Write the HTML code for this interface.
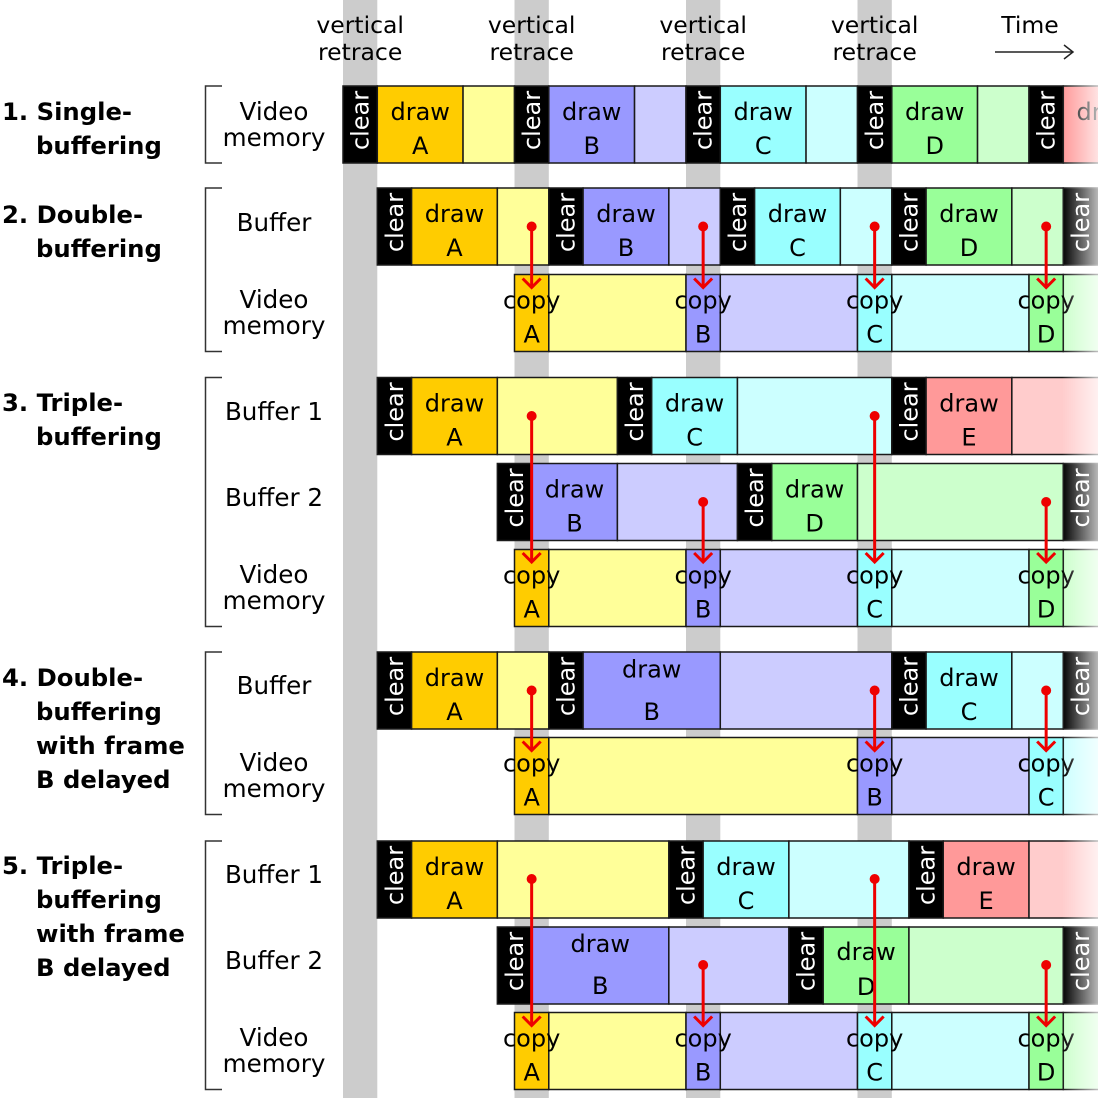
<!DOCTYPE html>
<html><head><meta charset="utf-8"><style>
html,body{margin:0;padding:0;background:#fff;}
svg{display:block;}
text{font-family:"DejaVu Sans","Liberation Sans",sans-serif;}
.c rect{stroke:#1a1a1a;stroke-width:1.5;}
.k{fill:#000}.oA{fill:#ffcc00}.lA{fill:#ffff99}.oB{fill:#9999ff}.lB{fill:#ccccff}
.oC{fill:#99ffff}.lC{fill:#ccffff}.oD{fill:#99ff99}.lD{fill:#ccffcc}.oE{fill:#ff9999}.lE{fill:#ffcccc}
.t{font-size:24px;text-anchor:middle;fill:#000}
.w{font-size:24px;text-anchor:middle;fill:#fff}
.h{font-size:23.5px;text-anchor:middle;fill:#000}
.r{font-size:24.6px;text-anchor:middle;fill:#000}
.b{font-size:24.3px;font-weight:bold;fill:#000}
.a line,.a polyline{stroke:#ee0000;stroke-width:3;fill:none}
.a circle{fill:#ee0000}
</style></head><body>
<svg width="1098" height="1098" viewBox="0 0 1098 1098" xmlns="http://www.w3.org/2000/svg">
<defs>
<linearGradient id="fade" x1="0" y1="0" x2="1" y2="0">
<stop offset="0" stop-color="#fff" stop-opacity="0"/>
<stop offset="1" stop-color="#fff" stop-opacity="0.72"/>
</linearGradient>
</defs>
<!-- gray retrace bars -->
<g fill="#cccccc">
<rect x="343" y="0" width="34.3" height="1098"/>
<rect x="514.5" y="0" width="34.3" height="1098"/>
<rect x="686" y="0" width="34.3" height="1098"/>
<rect x="857.5" y="0" width="34.3" height="1098"/>
</g>
<!-- header -->
<text class="h" x="360.15" y="33">vertical</text><text class="h" x="360.15" y="60">retrace</text>
<text class="h" x="531.65" y="33">vertical</text><text class="h" x="531.65" y="60">retrace</text>
<text class="h" x="703.15" y="33">vertical</text><text class="h" x="703.15" y="60">retrace</text>
<text class="h" x="874.65" y="33">vertical</text><text class="h" x="874.65" y="60">retrace</text>
<text class="h" x="1030" y="33">Time</text>
<g stroke="#222" stroke-width="1.5" fill="none">
<line x1="995" y1="52" x2="1073" y2="52"/>
<polyline points="1064,45 1073,52 1064,59"/>
</g>
<!-- left labels -->
<text class="b" x="2" y="120">1. Single-</text><text class="b" x="36" y="154">buffering</text>
<text class="b" x="2" y="223">2. Double-</text><text class="b" x="36" y="257">buffering</text>
<text class="b" x="2" y="411">3. Triple-</text><text class="b" x="36" y="445">buffering</text>
<text class="b" x="2" y="686">4. Double-</text><text class="b" x="36" y="720">buffering</text>
<text class="b" x="36" y="754">with frame</text><text class="b" x="36" y="788">B delayed</text>
<text class="b" x="2" y="874">5. Triple-</text><text class="b" x="36" y="908">buffering</text>
<text class="b" x="36" y="942">with frame</text><text class="b" x="36" y="976">B delayed</text>
<!-- brackets -->
<g stroke="#333" stroke-width="1.5" fill="none">
<polyline points="222,86 205.5,86 205.5,163 222,163"/>
<polyline points="222,188 205.5,188 205.5,351.5 222,351.5"/>
<polyline points="222,377.5 205.5,377.5 205.5,626.5 222,626.5"/>
<polyline points="222,652 205.5,652 205.5,814.5 222,814.5"/>
<polyline points="222,841 205.5,841 205.5,1089.5 222,1089.5"/>
</g>
<!-- row labels -->
<text class="r" x="274" y="120">Video</text><text class="r" x="274" y="146">memory</text>
<text class="r" x="274" y="231">Buffer</text>
<text class="r" x="274" y="308">Video</text><text class="r" x="274" y="334">memory</text>
<text class="r" x="274" y="420">Buffer 1</text>
<text class="r" x="274" y="506">Buffer 2</text>
<text class="r" x="274" y="583">Video</text><text class="r" x="274" y="609">memory</text>
<text class="r" x="274" y="694">Buffer</text>
<text class="r" x="274" y="771">Video</text><text class="r" x="274" y="797">memory</text>
<text class="r" x="274" y="883">Buffer 1</text>
<text class="r" x="274" y="969">Buffer 2</text>
<text class="r" x="274" y="1046">Video</text><text class="r" x="274" y="1072">memory</text>

<!-- ROW 1 -->
<g class="c">
<rect class="k" x="343" y="86" width="34.3" height="77"/>
<rect class="oA" x="377.3" y="86" width="85.75" height="77"/>
<rect class="lA" x="463.05" y="86" width="51.45" height="77"/>
<rect class="k" x="514.5" y="86" width="34.3" height="77"/>
<rect class="oB" x="548.8" y="86" width="85.75" height="77"/>
<rect class="lB" x="634.55" y="86" width="51.45" height="77"/>
<rect class="k" x="686" y="86" width="34.3" height="77"/>
<rect class="oC" x="720.3" y="86" width="85.75" height="77"/>
<rect class="lC" x="806.05" y="86" width="51.45" height="77"/>
<rect class="k" x="857.5" y="86" width="34.3" height="77"/>
<rect class="oD" x="891.8" y="86" width="85.75" height="77"/>
<rect class="lD" x="977.55" y="86" width="51.45" height="77"/>
<rect class="k" x="1029" y="86" width="34.3" height="77"/>
<rect class="oE" x="1063.3" y="86" width="90" height="77"/>
</g>
<text class="w" transform="translate(368.65,120.5) rotate(-90)">clear</text>
<text class="w" transform="translate(540.15,120.5) rotate(-90)">clear</text>
<text class="w" transform="translate(711.65,120.5) rotate(-90)">clear</text>
<text class="w" transform="translate(883.15,120.5) rotate(-90)">clear</text>
<text class="w" transform="translate(1054.65,120.5) rotate(-90)">clear</text>
<text class="t" x="420.2" y="120">draw</text><text class="t" x="420.2" y="154">A</text>
<text class="t" x="591.7" y="120">draw</text><text class="t" x="591.7" y="154">B</text>
<text class="t" x="763.2" y="120">draw</text><text class="t" x="763.2" y="154">C</text>
<text class="t" x="934.7" y="120">draw</text><text class="t" x="934.7" y="154">D</text>
<text class="t" x="1106.2" y="120">draw</text><text class="t" x="1106.2" y="154">E</text>

<!-- ROW 2 buffer -->
<g class="c">
<rect class="k" x="377.3" y="188" width="34.3" height="77"/>
<rect class="oA" x="411.6" y="188" width="85.75" height="77"/>
<rect class="lA" x="497.35" y="188" width="51.45" height="77"/>
<rect class="k" x="548.8" y="188" width="34.3" height="77"/>
<rect class="oB" x="583.1" y="188" width="85.75" height="77"/>
<rect class="lB" x="668.85" y="188" width="51.45" height="77"/>
<rect class="k" x="720.3" y="188" width="34.3" height="77"/>
<rect class="oC" x="754.6" y="188" width="85.75" height="77"/>
<rect class="lC" x="840.35" y="188" width="51.45" height="77"/>
<rect class="k" x="891.8" y="188" width="34.3" height="77"/>
<rect class="oD" x="926.1" y="188" width="85.75" height="77"/>
<rect class="lD" x="1011.85" y="188" width="51.45" height="77"/>
<rect class="k" x="1063.3" y="188" width="50" height="77"/>
</g>
<text class="w" transform="translate(402.95,222.5) rotate(-90)">clear</text>
<text class="w" transform="translate(574.45,222.5) rotate(-90)">clear</text>
<text class="w" transform="translate(745.95,222.5) rotate(-90)">clear</text>
<text class="w" transform="translate(917.45,222.5) rotate(-90)">clear</text>
<text class="w" transform="translate(1088.95,222.5) rotate(-90)">clear</text>
<text class="t" x="454.5" y="222">draw</text><text class="t" x="454.5" y="256">A</text>
<text class="t" x="626" y="222">draw</text><text class="t" x="626" y="256">B</text>
<text class="t" x="797.5" y="222">draw</text><text class="t" x="797.5" y="256">C</text>
<text class="t" x="969" y="222">draw</text><text class="t" x="969" y="256">D</text>
<!-- ROW 2 video -->
<g class="c">
<rect class="oA" x="514.5" y="274.5" width="34.3" height="77"/>
<rect class="lA" x="548.8" y="274.5" width="137.2" height="77"/>
<rect class="oB" x="686" y="274.5" width="34.3" height="77"/>
<rect class="lB" x="720.3" y="274.5" width="137.2" height="77"/>
<rect class="oC" x="857.5" y="274.5" width="34.3" height="77"/>
<rect class="lC" x="891.8" y="274.5" width="137.2" height="77"/>
<rect class="oD" x="1029" y="274.5" width="34.3" height="77"/>
<rect class="lD" x="1063.3" y="274.5" width="50" height="77"/>
</g>
<text class="t" x="531.65" y="308.5">copy</text><text class="t" x="531.65" y="342.5">A</text>
<text class="t" x="703.15" y="308.5">copy</text><text class="t" x="703.15" y="342.5">B</text>
<text class="t" x="874.65" y="308.5">copy</text><text class="t" x="874.65" y="342.5">C</text>
<text class="t" x="1046.15" y="308.5">copy</text><text class="t" x="1046.15" y="342.5">D</text>

<!-- ROW 3 buffer 1 -->
<g class="c">
<rect class="k" x="377.3" y="377.5" width="34.3" height="77"/>
<rect class="oA" x="411.6" y="377.5" width="85.75" height="77"/>
<rect class="lA" x="497.35" y="377.5" width="120.05" height="77"/>
<rect class="k" x="617.4" y="377.5" width="34.3" height="77"/>
<rect class="oC" x="651.7" y="377.5" width="85.75" height="77"/>
<rect class="lC" x="737.45" y="377.5" width="154.35" height="77"/>
<rect class="k" x="891.8" y="377.5" width="34.3" height="77"/>
<rect class="oE" x="926.1" y="377.5" width="85.75" height="77"/>
<rect class="lE" x="1011.85" y="377.5" width="100" height="77"/>
</g>
<text class="w" transform="translate(402.95,412) rotate(-90)">clear</text>
<text class="w" transform="translate(643.05,412) rotate(-90)">clear</text>
<text class="w" transform="translate(917.45,412) rotate(-90)">clear</text>
<text class="t" x="454.5" y="411.5">draw</text><text class="t" x="454.5" y="445.5">A</text>
<text class="t" x="694.6" y="411.5">draw</text><text class="t" x="694.6" y="445.5">C</text>
<text class="t" x="969" y="411.5">draw</text><text class="t" x="969" y="445.5">E</text>
<!-- ROW 3 buffer 2 -->
<g class="c">
<rect class="k" x="497.35" y="463.5" width="34.3" height="77"/>
<rect class="oB" x="531.65" y="463.5" width="85.75" height="77"/>
<rect class="lB" x="617.4" y="463.5" width="120.05" height="77"/>
<rect class="k" x="737.45" y="463.5" width="34.3" height="77"/>
<rect class="oD" x="771.75" y="463.5" width="85.75" height="77"/>
<rect class="lD" x="857.5" y="463.5" width="205.8" height="77"/>
<rect class="k" x="1063.3" y="463.5" width="50" height="77"/>
</g>
<text class="w" transform="translate(523,498) rotate(-90)">clear</text>
<text class="w" transform="translate(763.1,498) rotate(-90)">clear</text>
<text class="w" transform="translate(1088.95,498) rotate(-90)">clear</text>
<text class="t" x="574.5" y="497.5">draw</text><text class="t" x="574.5" y="531.5">B</text>
<text class="t" x="814.6" y="497.5">draw</text><text class="t" x="814.6" y="531.5">D</text>
<!-- ROW 3 video -->
<g class="c">
<rect class="oA" x="514.5" y="549.5" width="34.3" height="77"/>
<rect class="lA" x="548.8" y="549.5" width="137.2" height="77"/>
<rect class="oB" x="686" y="549.5" width="34.3" height="77"/>
<rect class="lB" x="720.3" y="549.5" width="137.2" height="77"/>
<rect class="oC" x="857.5" y="549.5" width="34.3" height="77"/>
<rect class="lC" x="891.8" y="549.5" width="137.2" height="77"/>
<rect class="oD" x="1029" y="549.5" width="34.3" height="77"/>
<rect class="lD" x="1063.3" y="549.5" width="50" height="77"/>
</g>
<text class="t" x="531.65" y="583.5">copy</text><text class="t" x="531.65" y="617.5">A</text>
<text class="t" x="703.15" y="583.5">copy</text><text class="t" x="703.15" y="617.5">B</text>
<text class="t" x="874.65" y="583.5">copy</text><text class="t" x="874.65" y="617.5">C</text>
<text class="t" x="1046.15" y="583.5">copy</text><text class="t" x="1046.15" y="617.5">D</text>

<!-- ROW 4 buffer -->
<g class="c">
<rect class="k" x="377.3" y="652" width="34.3" height="77"/>
<rect class="oA" x="411.6" y="652" width="85.75" height="77"/>
<rect class="lA" x="497.35" y="652" width="51.45" height="77"/>
<rect class="k" x="548.8" y="652" width="34.3" height="77"/>
<rect class="oB" x="583.1" y="652" width="137.2" height="77"/>
<rect class="lB" x="720.3" y="652" width="171.5" height="77"/>
<rect class="k" x="891.8" y="652" width="34.3" height="77"/>
<rect class="oC" x="926.1" y="652" width="85.75" height="77"/>
<rect class="lC" x="1011.85" y="652" width="51.45" height="77"/>
<rect class="k" x="1063.3" y="652" width="50" height="77"/>
</g>
<text class="w" transform="translate(402.95,686.5) rotate(-90)">clear</text>
<text class="w" transform="translate(574.45,686.5) rotate(-90)">clear</text>
<text class="w" transform="translate(917.45,686.5) rotate(-90)">clear</text>
<text class="w" transform="translate(1088.95,686.5) rotate(-90)">clear</text>
<text class="t" x="454.5" y="686">draw</text><text class="t" x="454.5" y="720">A</text>
<text class="t" x="651.7" y="677.5">draw</text><text class="t" x="651.7" y="720">B</text>
<text class="t" x="969" y="686">draw</text><text class="t" x="969" y="720">C</text>
<!-- ROW 4 video -->
<g class="c">
<rect class="oA" x="514.5" y="737.5" width="34.3" height="77"/>
<rect class="lA" x="548.8" y="737.5" width="308.7" height="77"/>
<rect class="oB" x="857.5" y="737.5" width="34.3" height="77"/>
<rect class="lB" x="891.8" y="737.5" width="137.2" height="77"/>
<rect class="oC" x="1029" y="737.5" width="34.3" height="77"/>
<rect class="lC" x="1063.3" y="737.5" width="50" height="77"/>
</g>
<text class="t" x="531.65" y="771.5">copy</text><text class="t" x="531.65" y="805.5">A</text>
<text class="t" x="874.65" y="771.5">copy</text><text class="t" x="874.65" y="805.5">B</text>
<text class="t" x="1046.15" y="771.5">copy</text><text class="t" x="1046.15" y="805.5">C</text>

<!-- ROW 5 buffer 1 -->
<g class="c">
<rect class="k" x="377.3" y="841" width="34.3" height="77"/>
<rect class="oA" x="411.6" y="841" width="85.75" height="77"/>
<rect class="lA" x="497.35" y="841" width="171.5" height="77"/>
<rect class="k" x="668.85" y="841" width="34.3" height="77"/>
<rect class="oC" x="703.15" y="841" width="85.75" height="77"/>
<rect class="lC" x="788.9" y="841" width="120.05" height="77"/>
<rect class="k" x="908.95" y="841" width="34.3" height="77"/>
<rect class="oE" x="943.25" y="841" width="85.75" height="77"/>
<rect class="lE" x="1029" y="841" width="85" height="77"/>
</g>
<text class="w" transform="translate(402.95,875.5) rotate(-90)">clear</text>
<text class="w" transform="translate(694.5,875.5) rotate(-90)">clear</text>
<text class="w" transform="translate(934.6,875.5) rotate(-90)">clear</text>
<text class="t" x="454.5" y="875">draw</text><text class="t" x="454.5" y="909">A</text>
<text class="t" x="746" y="875">draw</text><text class="t" x="746" y="909">C</text>
<text class="t" x="986.1" y="875">draw</text><text class="t" x="986.1" y="909">E</text>
<!-- ROW 5 buffer 2 -->
<g class="c">
<rect class="k" x="497.35" y="927" width="34.3" height="77"/>
<rect class="oB" x="531.65" y="927" width="137.2" height="77"/>
<rect class="lB" x="668.85" y="927" width="120.05" height="77"/>
<rect class="k" x="788.9" y="927" width="34.3" height="77"/>
<rect class="oD" x="823.2" y="927" width="85.75" height="77"/>
<rect class="lD" x="908.95" y="927" width="154.35" height="77"/>
<rect class="k" x="1063.3" y="927" width="50" height="77"/>
</g>
<text class="w" transform="translate(523,961.5) rotate(-90)">clear</text>
<text class="w" transform="translate(814.55,961.5) rotate(-90)">clear</text>
<text class="w" transform="translate(1088.95,961.5) rotate(-90)">clear</text>
<text class="t" x="600.25" y="952">draw</text><text class="t" x="600.25" y="994">B</text>
<text class="t" x="866.1" y="960">draw</text><text class="t" x="866.1" y="995">D</text>
<!-- ROW 5 video -->
<g class="c">
<rect class="oA" x="514.5" y="1012.5" width="34.3" height="77"/>
<rect class="lA" x="548.8" y="1012.5" width="137.2" height="77"/>
<rect class="oB" x="686" y="1012.5" width="34.3" height="77"/>
<rect class="lB" x="720.3" y="1012.5" width="137.2" height="77"/>
<rect class="oC" x="857.5" y="1012.5" width="34.3" height="77"/>
<rect class="lC" x="891.8" y="1012.5" width="137.2" height="77"/>
<rect class="oD" x="1029" y="1012.5" width="34.3" height="77"/>
<rect class="lD" x="1063.3" y="1012.5" width="50" height="77"/>
</g>
<text class="t" x="531.65" y="1046.5">copy</text><text class="t" x="531.65" y="1080.5">A</text>
<text class="t" x="703.15" y="1046.5">copy</text><text class="t" x="703.15" y="1080.5">B</text>
<text class="t" x="874.65" y="1046.5">copy</text><text class="t" x="874.65" y="1080.5">C</text>
<text class="t" x="1046.15" y="1046.5">copy</text><text class="t" x="1046.15" y="1080.5">D</text>

<!-- arrows -->
<g class="a">
<circle cx="531.65" cy="226.5" r="5"/><line x1="531.65" y1="226.5" x2="531.65" y2="287.5"/><polyline points="522.65,278.5 531.65,287.5 540.65,278.5"/>
<circle cx="703.15" cy="226.5" r="5"/><line x1="703.15" y1="226.5" x2="703.15" y2="287.5"/><polyline points="694.15,278.5 703.15,287.5 712.15,278.5"/>
<circle cx="874.65" cy="226.5" r="5"/><line x1="874.65" y1="226.5" x2="874.65" y2="287.5"/><polyline points="865.65,278.5 874.65,287.5 883.65,278.5"/>
<circle cx="1046.15" cy="226.5" r="5"/><line x1="1046.15" y1="226.5" x2="1046.15" y2="287.5"/><polyline points="1037.15,278.5 1046.15,287.5 1055.15,278.5"/>
<circle cx="531.65" cy="416" r="5"/><line x1="531.65" y1="416" x2="531.65" y2="562"/><polyline points="522.65,553 531.65,562 540.65,553"/>
<circle cx="703.15" cy="502" r="5"/><line x1="703.15" y1="502" x2="703.15" y2="562"/><polyline points="694.15,553 703.15,562 712.15,553"/>
<circle cx="874.65" cy="416" r="5"/><line x1="874.65" y1="416" x2="874.65" y2="562"/><polyline points="865.65,553 874.65,562 883.65,553"/>
<circle cx="1046.15" cy="502" r="5"/><line x1="1046.15" y1="502" x2="1046.15" y2="562"/><polyline points="1037.15,553 1046.15,562 1055.15,553"/>
<circle cx="531.65" cy="690.5" r="5"/><line x1="531.65" y1="690.5" x2="531.65" y2="750.5"/><polyline points="522.65,741.5 531.65,750.5 540.65,741.5"/>
<circle cx="874.65" cy="690.5" r="5"/><line x1="874.65" y1="690.5" x2="874.65" y2="750.5"/><polyline points="865.65,741.5 874.65,750.5 883.65,741.5"/>
<circle cx="1046.15" cy="690.5" r="5"/><line x1="1046.15" y1="690.5" x2="1046.15" y2="750.5"/><polyline points="1037.15,741.5 1046.15,750.5 1055.15,741.5"/>
<circle cx="531.65" cy="879" r="5"/><line x1="531.65" y1="879" x2="531.65" y2="1025.5"/><polyline points="522.65,1016.5 531.65,1025.5 540.65,1016.5"/>
<circle cx="703.15" cy="965" r="5"/><line x1="703.15" y1="965" x2="703.15" y2="1025.5"/><polyline points="694.15,1016.5 703.15,1025.5 712.15,1016.5"/>
<circle cx="874.65" cy="879" r="5"/><line x1="874.65" y1="879" x2="874.65" y2="1025.5"/><polyline points="865.65,1016.5 874.65,1025.5 883.65,1016.5"/>
<circle cx="1046.15" cy="965" r="5"/><line x1="1046.15" y1="965" x2="1046.15" y2="1025.5"/><polyline points="1037.15,1016.5 1046.15,1025.5 1055.15,1016.5"/>
</g>
<!-- right edge fade -->
<rect x="1062" y="80" width="36" height="1018" fill="url(#fade)"/>
</svg>
</body></html>
